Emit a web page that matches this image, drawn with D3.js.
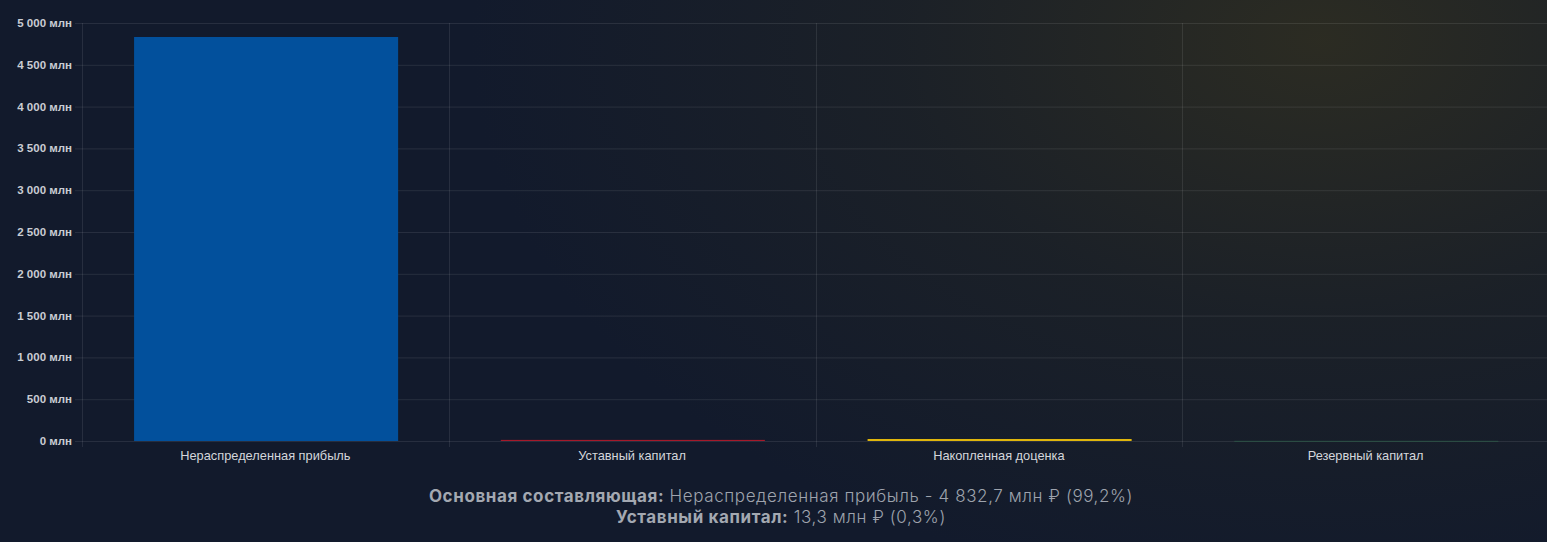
<!DOCTYPE html>
<html><head><meta charset="utf-8">
<script src="https://cdn.jsdelivr.net/npm/d3@7"></script>
<style>
html,body{margin:0;padding:0;width:1547px;height:542px;overflow:hidden;}
body{background:#121a2c;background-image:radial-gradient(ellipse 850px 560px at 1320px 40px, rgba(50,48,32,0.8) 0%, rgba(38,40,34,0.45) 50%, rgba(20,26,44,0) 100%);}
svg{position:absolute;left:0;top:0;}
</style></head>
<body>
<svg id="chart" width="1547" height="542"></svg>
<script>
const categories = ["Нераспределенная прибыль","Уставный капитал","Накопленная доценка","Резервный капитал"];
const values = [4832.7, 13.3, 24.0, 1.7];
const colors = ["#02509c","#a5192a","#e0b60c","#2d5a48"];
const yTicks = [0,500,1000,1500,2000,2500,3000,3500,4000,4500,5000];
const footer = [
  {bold:"Основная составляющая:", text:" Нераспределенная прибыль - 4 832,7 млн ₽ (99,2%)"},
  {bold:"Уставный капитал:", text:" 13,3 млн ₽ (0,3%)"}
];

const svg = d3.select("#chart");
const pL = 82, pR = 1549, pT = 23, pB = 441;
const x = d3.scaleBand().domain(categories).range([pL,pR]).padding(0);
const y = d3.scaleLinear().domain([0,5000]).range([pB,pT]);
const fmt = v => d3.format(",")(v).replace(/,/g," ") + " млн";

// horizontal grid
svg.append("g").selectAll("line").data(yTicks).join("line")
  .attr("x1",pL-7).attr("x2",pR).attr("y1",d=>y(d)+0.5).attr("y2",d=>y(d)+0.5)
  .attr("stroke","rgba(255,255,255,0.09)").attr("stroke-width",1);
// vertical grid (band boundaries)
const vb = categories.map(c=>x(c)).concat([pR]);
svg.append("g").selectAll("line").data(vb).join("line")
  .attr("x1",d=>Math.round(d)+0.5).attr("x2",d=>Math.round(d)+0.5).attr("y1",pT).attr("y2",pB+6)
  .attr("stroke","rgba(255,255,255,0.09)").attr("stroke-width",1);

// y labels
svg.append("g").selectAll("text").data(yTicks).join("text")
  .attr("x",pL-10).attr("y",d=>y(d)).attr("dy","0.35em")
  .attr("text-anchor","end").attr("font-family","'Liberation Sans',Arial,sans-serif")
  .attr("font-weight","bold").attr("font-size","11.5px").attr("fill","#c9ccd3")
  .text(fmt);

// bars
const bw = x.bandwidth();
svg.append("g").selectAll("rect").data(values).join("rect")
  .attr("x",(d,i)=>x(categories[i]) + bw*0.142)
  .attr("width",bw*0.72)
  .attr("y",d=>y(d))
  .attr("height",d=>Math.max(0.8,pB-y(d)))
  .attr("fill",(d,i)=>colors[i]);

// x labels
svg.append("g").selectAll("text").data(categories).join("text")
  .attr("x",d=>x(d)+bw/2).attr("y",460)
  .attr("text-anchor","middle").attr("font-family","'Liberation Sans',Arial,sans-serif")
  .attr("font-size","12.8px").attr("fill","#d4d6db")
  .text(d=>d);

// footer
const ft = svg.append("g");
footer.forEach((f,i)=>{
  const t = ft.append("text").attr("x",781).attr("y",502+i*21)
    .attr("text-anchor","middle").attr("font-family","Inter,'Open Sans',sans-serif")
    .attr("font-size","17px").attr("letter-spacing","0.6px").attr("fill","#9ea3ad");
  t.append("tspan").attr("font-weight","bold").attr("fill","#a3a8b1").text(f.bold);
  t.append("tspan").attr("font-weight","300").text(f.text);
});
</script>
</body></html>
